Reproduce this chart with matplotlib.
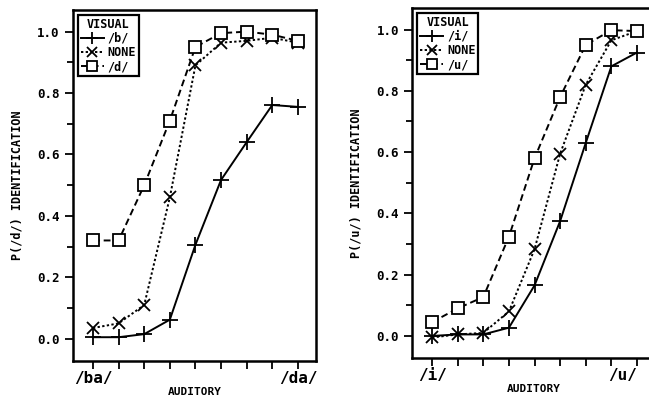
import matplotlib
matplotlib.use('Agg')
import matplotlib.pyplot as plt
from matplotlib.ticker import MultipleLocator
import numpy as np

plt.rcParams['font.family'] = ['DejaVu Sans Mono']
plt.rcParams['font.weight'] = 'bold'

# auditory continuum steps
steps = np.arange(9)

# left panel: /ba/-/da/
left_b    = [0.005, 0.005, 0.015, 0.062, 0.306, 0.517, 0.640, 0.761, 0.755]
left_none = [0.035, 0.050, 0.110, 0.460, 0.890, 0.964, 0.970, 0.980, 0.964]
left_d    = [0.320, 0.320, 0.500, 0.710, 0.950, 0.995, 1.000, 0.990, 0.970]

# right panel: /i/-/u/
right_i    = [0.000, 0.005, 0.005, 0.027, 0.165, 0.375, 0.630, 0.880, 0.925]
right_none = [-0.005, 0.005, 0.010, 0.080, 0.283, 0.595, 0.820, 0.965, 0.995]
right_u    = [0.045, 0.090, 0.127, 0.324, 0.580, 0.780, 0.950, 0.998, 0.995]

panels = [
    dict(series=[left_b, left_none, left_d], labels=['/b/', 'NONE', '/d/'],
         ylabel='P(/d/) IDENTIFICATION', ends=['/ba/', '/da/'],
         rect=[0.1125, 0.109, 0.3745, 0.866]),
    dict(series=[right_i, right_none, right_u], labels=['/i/', 'NONE', '/u/'],
         ylabel='P(/u/) IDENTIFICATION', ends=['/i/', '/u/'],
         rect=[0.635, 0.116, 0.3745, 0.864]),
]

styles = [dict(ls='-', marker='+', ms=11, mew=1.3),
          dict(ls=(0, (1.2, 1.2)), marker='x', ms=9, mew=1.3),
          dict(ls=(0, (3.5, 2)), marker='s', ms=9, mew=1.3, mfc='white')]

fig = plt.figure(figsize=(6.49, 4.05), dpi=100)

for p in panels:
    ax = fig.add_axes(p['rect'])
    for ys, lab, st in zip(p['series'], p['labels'], styles):
        ax.plot(steps, ys, color='black', lw=1.4, label=lab, **st)
    ax.set_xlim(-0.78, 8.71)
    ax.set_ylim(-0.072, 1.07)
    ax.yaxis.set_minor_locator(MultipleLocator(0.1))
    ax.set_yticks(np.arange(0, 1.01, 0.2))
    ax.set_yticklabels(['%.1f' % v for v in np.arange(0, 1.01, 0.2)], fontsize=9, fontweight='bold')
    ax.set_xticks(steps)
    ax.set_xticklabels([p['ends'][0]] + [''] * 7 + [p['ends'][1]], fontsize=11.5, fontweight='bold')
    ax.tick_params(axis='both', which='major', direction='out', length=6, width=1.3)
    ax.tick_params(axis='y', which='minor', direction='out', length=4, width=1.3)
    ax.tick_params(axis='x', pad=1)
    for s in ax.spines.values():
        s.set_linewidth(1.8)
    ax.set_ylabel(p['ylabel'], fontsize=8.5, fontweight='bold', labelpad=10)
    ax.set_xlabel('AUDITORY', fontsize=8, fontweight='bold', labelpad=1)
    leg = ax.legend(title='VISUAL', loc='upper left', fontsize=8.5, title_fontsize=8.5,
                    frameon=True, fancybox=False, edgecolor='black', framealpha=1,
                    handlelength=2.0, handletextpad=0.3, borderpad=0.25, labelspacing=0.1,
                    markerscale=0.75, borderaxespad=0.4)
    leg.get_frame().set_linewidth(1.6)
    leg.get_title().set_fontweight('bold')
    if p['ends'][1] == '/u/':
        ax.get_xticklabels()[-1].set_horizontalalignment('right')
        ax.get_xticklabels()[-1].set_x(8.55)

fig.savefig('out.png', dpi=100)
